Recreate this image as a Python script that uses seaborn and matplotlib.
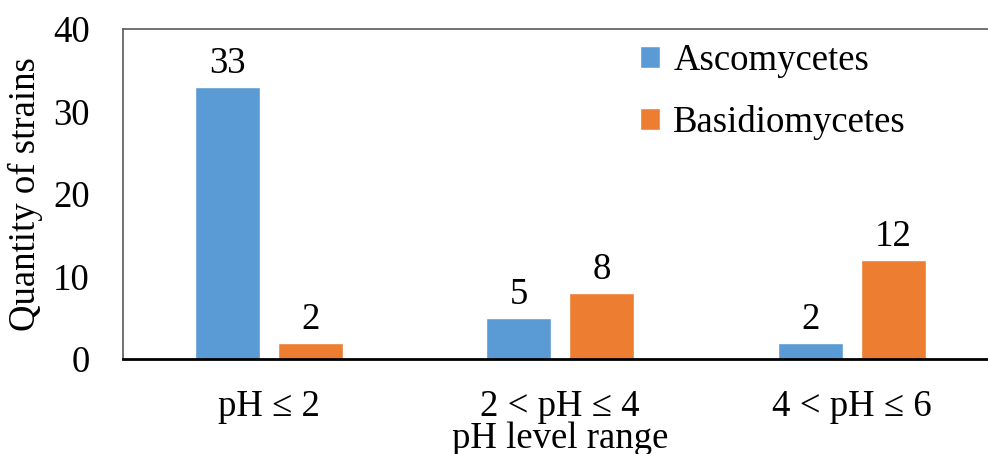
import matplotlib
matplotlib.use("Agg")
import matplotlib.pyplot as plt
import pandas as pd
import seaborn as sns

categories = ["pH \u2264 2", "2 < pH \u2264 4", "4 < pH \u2264 6"]
ascomycetes = [33, 5, 2]
basidiomycetes = [2, 8, 12]
groups = ["Ascomycetes", "Basidiomycetes"]
colors = ["#5B9BD5", "#ED7D31"]

df = pd.DataFrame({
    "range": categories * 2,
    "count": ascomycetes + basidiomycetes,
    "group": [groups[0]] * 3 + [groups[1]] * 3,
})

sns.set_style("white")
plt.rcParams["font.family"] = ["Liberation Serif", "DejaVu Serif"]
plt.rcParams["text.color"] = "black"
plt.rcParams["axes.labelcolor"] = "black"
plt.rcParams["xtick.color"] = "black"
plt.rcParams["ytick.color"] = "black"
FS = 26.5

fig = plt.figure(figsize=(9.88, 4.54), dpi=100)
ax = fig.add_axes([123 / 988, 95 / 454, 874.5 / 988, 330 / 454])

sns.barplot(data=df, x="range", y="count", hue="group", palette=colors,
            width=0.57, gap=0.22, ax=ax, saturation=1, legend=True)

for cont in ax.containers:
    ax.bar_label(cont, fontsize=FS, padding=4)

ax.set_ylim(0, 40)
ax.set_yticks([0, 10, 20, 30, 40])
ax.set_xlim(-0.5, 2.5)
ax.tick_params(axis="both", labelsize=FS, length=0)
ax.tick_params(axis="x", pad=22)
ax.tick_params(axis="y", pad=24)
ax.set_ylabel("Quantity of strains", fontsize=FS)
ax.yaxis.set_label_coords(-0.092, 0.5)
ax.set_xlabel("pH level range", fontsize=FS)
ax.xaxis.set_label_coords(0.5, -0.19)

for side in ["left", "top", "right"]:
    ax.spines[side].set_color("#595959")
    ax.spines[side].set_linewidth(1.2)
ax.spines["bottom"].set_color("black")
ax.spines["bottom"].set_linewidth(2)

ax.legend(loc="upper left", bbox_to_anchor=(0.562, 1.035), frameon=False,
          fontsize=FS, handlelength=0.55, handleheight=0.55, handletextpad=0.35,
          labelspacing=0.75, borderaxespad=0.3)

fig.savefig("out.png", dpi=100)
